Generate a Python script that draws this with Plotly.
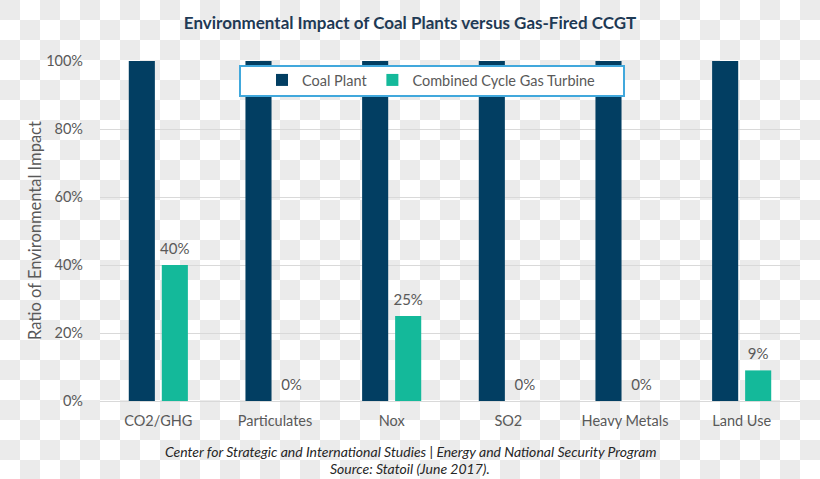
import base64
import plotly.graph_objects as go

categories = ["CO2/GHG", "Particulates", "Nox", "SO2", "Heavy Metals", "Land Use"]
coal_values = [1.00, 1.00, 1.00, 1.00, 1.00, 1.00]
gas_values = [0.40, 0.00, 0.25, 0.00, 0.00, 0.09]
y_ticks = [0, 0.2, 0.4, 0.6, 0.8, 1.0]

W, H = 820, 479
L, R, T, B = 100, 20, 61, 78
pw, ph = W - L - R, H - T - B

# checkerboard background (decorative)
svg = (
    f'<svg xmlns="http://www.w3.org/2000/svg" width="{W}" height="{H}">'
    '<defs><pattern id="p" width="40" height="40" patternUnits="userSpaceOnUse">'
    '<rect width="40" height="40" fill="#ffffff"/>'
    '<rect width="20" height="20" fill="#ebebeb"/>'
    '<rect x="20" y="20" width="20" height="20" fill="#ebebeb"/>'
    '</pattern></defs>'
    f'<rect width="{W}" height="{H}" fill="url(#p)"/></svg>'
)
svg_uri = "data:image/svg+xml;base64," + base64.b64encode(svg.encode()).decode()

font_family = "Lato, 'Open Sans', sans-serif"
gray = "#595959"

fig = go.Figure()
fig.add_trace(go.Bar(
    x=categories, y=coal_values, name="Coal Plant", offsetgroup="coal",
    marker=dict(color="#023e62", line=dict(width=0)),
))
fig.add_trace(go.Bar(
    x=categories, y=gas_values, name="Combined Cycle Gas Turbine", offsetgroup="gas",
    marker=dict(color="#14b99a", line=dict(width=0)),
))
# data labels for the gas series, grouped like the bars
fig.add_trace(go.Scatter(
    x=categories, y=coal_values, mode="markers", offsetgroup="coal",
    marker=dict(size=1, opacity=0), showlegend=False, hoverinfo="skip",
    cliponaxis=False,
))
fig.add_trace(go.Scatter(
    x=categories, y=gas_values, mode="markers+text", offsetgroup="gas",
    text=[f"{v:.0%}" for v in gas_values], textposition="top center",
    textfont=dict(color=gray, size=15, family=font_family),
    marker=dict(size=10, opacity=0), showlegend=False, hoverinfo="skip",
    cliponaxis=False,
))

fig.update_layout(
    width=W, height=H,
    margin=dict(l=L, r=R, t=T, b=B, pad=0),
    paper_bgcolor="rgba(0,0,0,0)", plot_bgcolor="rgba(0,0,0,0)",
    barmode="group", bargap=0.434, bargroupgap=0.21,
    scattermode="group", scattergap=0.434,
    font=dict(family=font_family, color=gray, size=14),
    title=dict(
        text="<b>Environmental Impact of Coal Plants versus Gas-Fired CCGT</b>",
        x=0.5, xref="container", xanchor="center", y=1 - 23 / H, yanchor="middle",
        font=dict(size=17, color="#1f3a55", family=font_family),
    ),
    showlegend=True,
    legend=dict(
        orientation="h", x=(262 - L) / pw, xanchor="left", y=1 - (64 - T) / ph, yanchor="top",
        bgcolor="rgba(0,0,0,0)", borderwidth=0,
        font=dict(size=14.5, color=gray, family=font_family),
        itemwidth=30, traceorder="normal",
    ),
    shapes=[dict(
        type="rect", xref="paper", yref="paper",
        x0=(240 - L) / pw, x1=(624 - L) / pw,
        y0=1 - (96 - T) / ph, y1=1 - (66 - T) / ph,
        fillcolor="#ffffff", line=dict(color="#41a8dc", width=2), layer="above",
    )],
    xaxis=dict(
        showgrid=False, showline=True, linecolor="#d9d9d9", linewidth=1,
        ticks="", tickfont=dict(size=14.5, color=gray), ticklabelstandoff=7,
    ),
    yaxis=dict(
        range=[0, 1], tickvals=y_ticks, tickformat=".0%",
        showgrid=True, gridcolor="#d9d9d9", gridwidth=1, zeroline=False,
        showline=False, ticks="", ticklabelstandoff=16,
        tickfont=dict(size=14.5, color=gray),
    ),
    images=[dict(
        source=svg_uri, xref="paper", yref="paper",
        x=-L / pw, y=1 + T / ph, sizex=W / pw, sizey=H / ph,
        xanchor="left", yanchor="top", sizing="stretch", layer="below",
    )],
    annotations=[
        dict(text="Ratio of Environmental Impact", textangle=-90,
             xref="paper", yref="paper", x=(35 - L) / pw, y=0.5,
             xanchor="center", yanchor="middle", showarrow=False,
             font=dict(size=16.5, color=gray, family=font_family)),
        dict(text="<i>Center for Strategic and International Studies | Energy and National Security Program</i>",
             xref="paper", yref="paper", x=(410 - L) / pw, y=-(451 - T - ph) / ph,
             xanchor="center", yanchor="middle", showarrow=False,
             font=dict(size=14, color="#262626", family=font_family)),
        dict(text="<i>Source: Statoil (June 2017).</i>",
             xref="paper", yref="paper", x=(410 - L) / pw, y=-(468 - T - ph) / ph,
             xanchor="center", yanchor="middle", showarrow=False,
             font=dict(size=14, color="#262626", family=font_family)),
    ],
)

fig.write_html("out.html")
